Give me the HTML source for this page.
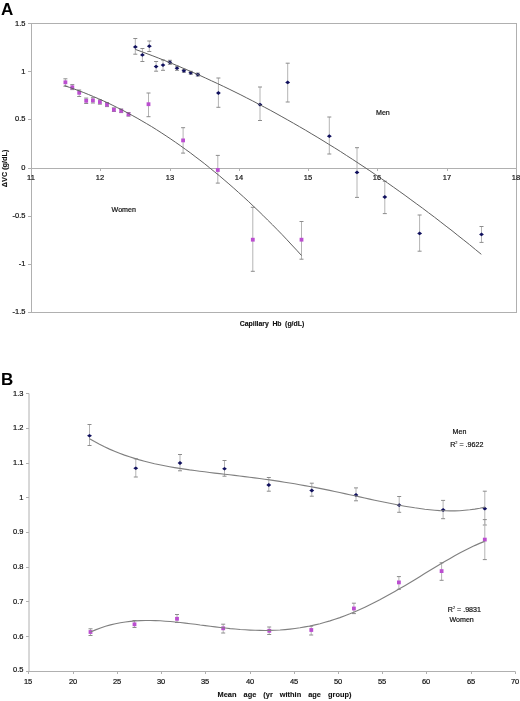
<!DOCTYPE html>
<html><head><meta charset="utf-8"><title>Figure</title>
<style>
html,body{margin:0;padding:0;background:#fff;}
body{width:520px;height:701px;overflow:hidden;}
svg{display:block;will-change:transform;}
text{font-family:"Liberation Sans",sans-serif;fill:#111;}
.t{font-size:7.5px;stroke:#111;stroke-width:0.2px;}
.lab{font-size:7.1px;}
.sup{font-size:3.9px;stroke-width:0.1px;}
.tb{font-size:7.3px;font-weight:bold;stroke:#111;stroke-width:0.12px;}
.tb2{font-size:7.4px;font-weight:bold;stroke:#111;stroke-width:0.1px;}
.big{font-size:17px;font-weight:bold;fill:#000;}
</style></head>
<body>
<svg width="520" height="701" viewBox="0 0 520 701">
<rect width="520" height="701" fill="#fff"/>
<rect x="31.5" y="23.5" width="485" height="289" fill="none" stroke="#b0b0b0" stroke-width="1"/>
<line x1="28" y1="23.5" x2="31" y2="23.5" stroke="#b0b0b0"/>
<text x="25.5" y="25.75" class="t" text-anchor="end">1.5</text>
<line x1="28" y1="71.5" x2="31" y2="71.5" stroke="#b0b0b0"/>
<text x="25.5" y="73.60" class="t" text-anchor="end">1</text>
<line x1="28" y1="119.5" x2="31" y2="119.5" stroke="#b0b0b0"/>
<text x="25.5" y="120.95" class="t" text-anchor="end">0.5</text>
<line x1="28" y1="168.5" x2="31" y2="168.5" stroke="#b0b0b0"/>
<text x="25.5" y="169.60" class="t" text-anchor="end">0</text>
<line x1="28" y1="216.5" x2="31" y2="216.5" stroke="#b0b0b0"/>
<text x="25.5" y="217.50" class="t" text-anchor="end">-0.5</text>
<line x1="28" y1="264.5" x2="31" y2="264.5" stroke="#b0b0b0"/>
<text x="25.5" y="265.70" class="t" text-anchor="end">-1</text>
<line x1="28" y1="312.5" x2="31" y2="312.5" stroke="#b0b0b0"/>
<text x="25.5" y="313.60" class="t" text-anchor="end">-1.5</text>
<line x1="31" y1="168.5" x2="516" y2="168.5" stroke="#b0b0b0"/>
<line x1="31.5" y1="168.5" x2="31.5" y2="171.0" stroke="#b0b0b0"/>
<text x="31.0" y="180.1" class="t" text-anchor="middle">11</text>
<line x1="100.5" y1="168.5" x2="100.5" y2="171.0" stroke="#b0b0b0"/>
<text x="100.0" y="180.1" class="t" text-anchor="middle">12</text>
<line x1="170.5" y1="168.5" x2="170.5" y2="171.0" stroke="#b0b0b0"/>
<text x="170.0" y="180.1" class="t" text-anchor="middle">13</text>
<line x1="239.5" y1="168.5" x2="239.5" y2="171.0" stroke="#b0b0b0"/>
<text x="239.0" y="180.1" class="t" text-anchor="middle">14</text>
<line x1="308.5" y1="168.5" x2="308.5" y2="171.0" stroke="#b0b0b0"/>
<text x="308.0" y="180.1" class="t" text-anchor="middle">15</text>
<line x1="377.5" y1="168.5" x2="377.5" y2="171.0" stroke="#b0b0b0"/>
<text x="377.0" y="180.1" class="t" text-anchor="middle">16</text>
<line x1="447.5" y1="168.5" x2="447.5" y2="171.0" stroke="#b0b0b0"/>
<text x="447.0" y="180.1" class="t" text-anchor="middle">17</text>
<line x1="516.5" y1="168.5" x2="516.5" y2="171.0" stroke="#b0b0b0"/>
<text x="516.0" y="180.1" class="t" text-anchor="middle">18</text>
<line x1="135.3" y1="38.5" x2="135.3" y2="54.2" stroke="#b4b4b4"/>
<line x1="133.3" y1="38.5" x2="137.3" y2="38.5" stroke="#8c8c8c"/>
<line x1="133.3" y1="54.2" x2="137.3" y2="54.2" stroke="#8c8c8c"/>
<line x1="142.4" y1="48.5" x2="142.4" y2="61.5" stroke="#b4b4b4"/>
<line x1="140.4" y1="48.5" x2="144.4" y2="48.5" stroke="#8c8c8c"/>
<line x1="140.4" y1="61.5" x2="144.4" y2="61.5" stroke="#8c8c8c"/>
<line x1="149.3" y1="41.0" x2="149.3" y2="51.5" stroke="#b4b4b4"/>
<line x1="147.3" y1="41.0" x2="151.3" y2="41.0" stroke="#8c8c8c"/>
<line x1="147.3" y1="51.5" x2="151.3" y2="51.5" stroke="#8c8c8c"/>
<line x1="156.1" y1="61.5" x2="156.1" y2="71.2" stroke="#b4b4b4"/>
<line x1="154.1" y1="61.5" x2="158.1" y2="61.5" stroke="#8c8c8c"/>
<line x1="154.1" y1="71.2" x2="158.1" y2="71.2" stroke="#8c8c8c"/>
<line x1="163.0" y1="60.0" x2="163.0" y2="70.3" stroke="#b4b4b4"/>
<line x1="161.0" y1="60.0" x2="165.0" y2="60.0" stroke="#8c8c8c"/>
<line x1="161.0" y1="70.3" x2="165.0" y2="70.3" stroke="#8c8c8c"/>
<line x1="169.9" y1="60.3" x2="169.9" y2="64.3" stroke="#b4b4b4"/>
<line x1="167.9" y1="60.3" x2="171.9" y2="60.3" stroke="#8c8c8c"/>
<line x1="167.9" y1="64.3" x2="171.9" y2="64.3" stroke="#8c8c8c"/>
<line x1="177.0" y1="66.2" x2="177.0" y2="70.3" stroke="#b4b4b4"/>
<line x1="175.0" y1="66.2" x2="179.0" y2="66.2" stroke="#8c8c8c"/>
<line x1="175.0" y1="70.3" x2="179.0" y2="70.3" stroke="#8c8c8c"/>
<line x1="183.9" y1="69.3" x2="183.9" y2="72.3" stroke="#b4b4b4"/>
<line x1="181.9" y1="69.3" x2="185.9" y2="69.3" stroke="#8c8c8c"/>
<line x1="181.9" y1="72.3" x2="185.9" y2="72.3" stroke="#8c8c8c"/>
<line x1="190.8" y1="71.3" x2="190.8" y2="74.3" stroke="#b4b4b4"/>
<line x1="188.8" y1="71.3" x2="192.8" y2="71.3" stroke="#8c8c8c"/>
<line x1="188.8" y1="74.3" x2="192.8" y2="74.3" stroke="#8c8c8c"/>
<line x1="197.8" y1="73.1" x2="197.8" y2="76.1" stroke="#b4b4b4"/>
<line x1="195.8" y1="73.1" x2="199.8" y2="73.1" stroke="#8c8c8c"/>
<line x1="195.8" y1="76.1" x2="199.8" y2="76.1" stroke="#8c8c8c"/>
<line x1="218.4" y1="78.0" x2="218.4" y2="107.3" stroke="#b4b4b4"/>
<line x1="216.4" y1="78.0" x2="220.4" y2="78.0" stroke="#8c8c8c"/>
<line x1="216.4" y1="107.3" x2="220.4" y2="107.3" stroke="#8c8c8c"/>
<line x1="260.0" y1="87.0" x2="260.0" y2="120.5" stroke="#b4b4b4"/>
<line x1="258.0" y1="87.0" x2="262.0" y2="87.0" stroke="#8c8c8c"/>
<line x1="258.0" y1="120.5" x2="262.0" y2="120.5" stroke="#8c8c8c"/>
<line x1="287.7" y1="63.2" x2="287.7" y2="102.0" stroke="#b4b4b4"/>
<line x1="285.7" y1="63.2" x2="289.7" y2="63.2" stroke="#8c8c8c"/>
<line x1="285.7" y1="102.0" x2="289.7" y2="102.0" stroke="#8c8c8c"/>
<line x1="329.3" y1="117.0" x2="329.3" y2="154.0" stroke="#b4b4b4"/>
<line x1="327.3" y1="117.0" x2="331.3" y2="117.0" stroke="#8c8c8c"/>
<line x1="327.3" y1="154.0" x2="331.3" y2="154.0" stroke="#8c8c8c"/>
<line x1="357.0" y1="147.7" x2="357.0" y2="197.4" stroke="#b4b4b4"/>
<line x1="355.0" y1="147.7" x2="359.0" y2="147.7" stroke="#8c8c8c"/>
<line x1="355.0" y1="197.4" x2="359.0" y2="197.4" stroke="#8c8c8c"/>
<line x1="384.8" y1="181.2" x2="384.8" y2="213.6" stroke="#b4b4b4"/>
<line x1="382.8" y1="181.2" x2="386.8" y2="181.2" stroke="#8c8c8c"/>
<line x1="382.8" y1="213.6" x2="386.8" y2="213.6" stroke="#8c8c8c"/>
<line x1="419.6" y1="215.0" x2="419.6" y2="251.2" stroke="#b4b4b4"/>
<line x1="417.6" y1="215.0" x2="421.6" y2="215.0" stroke="#8c8c8c"/>
<line x1="417.6" y1="251.2" x2="421.6" y2="251.2" stroke="#8c8c8c"/>
<line x1="481.5" y1="226.5" x2="481.5" y2="242.4" stroke="#b4b4b4"/>
<line x1="479.5" y1="226.5" x2="483.5" y2="226.5" stroke="#8c8c8c"/>
<line x1="479.5" y1="242.4" x2="483.5" y2="242.4" stroke="#8c8c8c"/>
<line x1="65.4" y1="78.8" x2="65.4" y2="86.2" stroke="#b4b4b4"/>
<line x1="63.4" y1="78.8" x2="67.4" y2="78.8" stroke="#8c8c8c"/>
<line x1="63.4" y1="86.2" x2="67.4" y2="86.2" stroke="#8c8c8c"/>
<line x1="72.3" y1="84.6" x2="72.3" y2="89.6" stroke="#b4b4b4"/>
<line x1="70.3" y1="84.6" x2="74.3" y2="84.6" stroke="#8c8c8c"/>
<line x1="70.3" y1="89.6" x2="74.3" y2="89.6" stroke="#8c8c8c"/>
<line x1="79.2" y1="90.0" x2="79.2" y2="96.5" stroke="#b4b4b4"/>
<line x1="77.2" y1="90.0" x2="81.2" y2="90.0" stroke="#8c8c8c"/>
<line x1="77.2" y1="96.5" x2="81.2" y2="96.5" stroke="#8c8c8c"/>
<line x1="86.2" y1="98.1" x2="86.2" y2="103.5" stroke="#b4b4b4"/>
<line x1="84.2" y1="98.1" x2="88.2" y2="98.1" stroke="#8c8c8c"/>
<line x1="84.2" y1="103.5" x2="88.2" y2="103.5" stroke="#8c8c8c"/>
<line x1="92.9" y1="97.7" x2="92.9" y2="103.0" stroke="#b4b4b4"/>
<line x1="90.9" y1="97.7" x2="94.9" y2="97.7" stroke="#8c8c8c"/>
<line x1="90.9" y1="103.0" x2="94.9" y2="103.0" stroke="#8c8c8c"/>
<line x1="99.9" y1="99.8" x2="99.9" y2="104.2" stroke="#b4b4b4"/>
<line x1="97.9" y1="99.8" x2="101.9" y2="99.8" stroke="#8c8c8c"/>
<line x1="97.9" y1="104.2" x2="101.9" y2="104.2" stroke="#8c8c8c"/>
<line x1="107.0" y1="102.6" x2="107.0" y2="106.6" stroke="#b4b4b4"/>
<line x1="105.0" y1="102.6" x2="109.0" y2="102.6" stroke="#8c8c8c"/>
<line x1="105.0" y1="106.6" x2="109.0" y2="106.6" stroke="#8c8c8c"/>
<line x1="113.9" y1="107.9" x2="113.9" y2="111.5" stroke="#b4b4b4"/>
<line x1="111.9" y1="107.9" x2="115.9" y2="107.9" stroke="#8c8c8c"/>
<line x1="111.9" y1="111.5" x2="115.9" y2="111.5" stroke="#8c8c8c"/>
<line x1="121.2" y1="109.0" x2="121.2" y2="112.6" stroke="#b4b4b4"/>
<line x1="119.2" y1="109.0" x2="123.2" y2="109.0" stroke="#8c8c8c"/>
<line x1="119.2" y1="112.6" x2="123.2" y2="112.6" stroke="#8c8c8c"/>
<line x1="128.5" y1="112.5" x2="128.5" y2="116.1" stroke="#b4b4b4"/>
<line x1="126.5" y1="112.5" x2="130.5" y2="112.5" stroke="#8c8c8c"/>
<line x1="126.5" y1="116.1" x2="130.5" y2="116.1" stroke="#8c8c8c"/>
<line x1="148.5" y1="93.0" x2="148.5" y2="116.7" stroke="#b4b4b4"/>
<line x1="146.5" y1="93.0" x2="150.5" y2="93.0" stroke="#8c8c8c"/>
<line x1="146.5" y1="116.7" x2="150.5" y2="116.7" stroke="#8c8c8c"/>
<line x1="183.1" y1="127.7" x2="183.1" y2="153.1" stroke="#b4b4b4"/>
<line x1="181.1" y1="127.7" x2="185.1" y2="127.7" stroke="#8c8c8c"/>
<line x1="181.1" y1="153.1" x2="185.1" y2="153.1" stroke="#8c8c8c"/>
<line x1="217.8" y1="155.4" x2="217.8" y2="183.1" stroke="#b4b4b4"/>
<line x1="215.8" y1="155.4" x2="219.8" y2="155.4" stroke="#8c8c8c"/>
<line x1="215.8" y1="183.1" x2="219.8" y2="183.1" stroke="#8c8c8c"/>
<line x1="252.8" y1="207.3" x2="252.8" y2="271.3" stroke="#b4b4b4"/>
<line x1="250.8" y1="207.3" x2="254.8" y2="207.3" stroke="#8c8c8c"/>
<line x1="250.8" y1="271.3" x2="254.8" y2="271.3" stroke="#8c8c8c"/>
<line x1="301.5" y1="221.5" x2="301.5" y2="259.2" stroke="#b4b4b4"/>
<line x1="299.5" y1="221.5" x2="303.5" y2="221.5" stroke="#8c8c8c"/>
<line x1="299.5" y1="259.2" x2="303.5" y2="259.2" stroke="#8c8c8c"/>
<path d="M132.9,46.9 L135.3,45.0 L137.8,46.9 L135.3,48.8 Z" fill="#10105e"/>
<path d="M140.0,54.9 L142.4,53.0 L144.8,54.9 L142.4,56.8 Z" fill="#10105e"/>
<path d="M146.9,46.2 L149.3,44.3 L151.8,46.2 L149.3,48.1 Z" fill="#10105e"/>
<path d="M153.7,66.6 L156.1,64.7 L158.5,66.6 L156.1,68.5 Z" fill="#10105e"/>
<path d="M160.6,65.1 L163.0,63.2 L165.4,65.1 L163.0,67.0 Z" fill="#10105e"/>
<path d="M167.5,62.3 L169.9,60.4 L172.3,62.3 L169.9,64.2 Z" fill="#10105e"/>
<path d="M174.6,68.2 L177.0,66.3 L179.4,68.2 L177.0,70.1 Z" fill="#10105e"/>
<path d="M181.5,70.8 L183.9,68.9 L186.3,70.8 L183.9,72.7 Z" fill="#10105e"/>
<path d="M188.4,72.8 L190.8,70.9 L193.2,72.8 L190.8,74.7 Z" fill="#10105e"/>
<path d="M195.4,74.6 L197.8,72.7 L200.2,74.6 L197.8,76.5 Z" fill="#10105e"/>
<path d="M216.0,93.0 L218.4,91.1 L220.8,93.0 L218.4,94.9 Z" fill="#10105e"/>
<path d="M257.6,104.6 L260.0,102.7 L262.4,104.6 L260.0,106.5 Z" fill="#10105e"/>
<path d="M285.2,82.4 L287.7,80.5 L290.1,82.4 L287.7,84.3 Z" fill="#10105e"/>
<path d="M326.9,136.2 L329.3,134.3 L331.8,136.2 L329.3,138.1 Z" fill="#10105e"/>
<path d="M354.6,172.4 L357.0,170.5 L359.4,172.4 L357.0,174.3 Z" fill="#10105e"/>
<path d="M382.4,197.0 L384.8,195.1 L387.2,197.0 L384.8,198.9 Z" fill="#10105e"/>
<path d="M417.2,233.4 L419.6,231.5 L422.1,233.4 L419.6,235.3 Z" fill="#10105e"/>
<path d="M479.1,234.4 L481.5,232.5 L483.9,234.4 L481.5,236.3 Z" fill="#10105e"/>
<rect x="63.5" y="80.4" width="3.8" height="3.8" fill="#bb4ed0"/>
<rect x="70.4" y="85.4" width="3.8" height="3.8" fill="#bb4ed0"/>
<rect x="77.3" y="90.9" width="3.8" height="3.8" fill="#bb4ed0"/>
<rect x="84.3" y="98.9" width="3.8" height="3.8" fill="#bb4ed0"/>
<rect x="91.0" y="98.5" width="3.8" height="3.8" fill="#bb4ed0"/>
<rect x="98.0" y="100.1" width="3.8" height="3.8" fill="#bb4ed0"/>
<rect x="105.1" y="102.7" width="3.8" height="3.8" fill="#bb4ed0"/>
<rect x="112.0" y="107.8" width="3.8" height="3.8" fill="#bb4ed0"/>
<rect x="119.3" y="108.9" width="3.8" height="3.8" fill="#bb4ed0"/>
<rect x="126.6" y="112.4" width="3.8" height="3.8" fill="#bb4ed0"/>
<rect x="146.6" y="102.3" width="3.8" height="3.8" fill="#bb4ed0"/>
<rect x="181.2" y="138.5" width="3.8" height="3.8" fill="#bb4ed0"/>
<rect x="215.9" y="168.1" width="3.8" height="3.8" fill="#bb4ed0"/>
<rect x="250.9" y="237.8" width="3.8" height="3.8" fill="#bb4ed0"/>
<rect x="299.6" y="237.8" width="3.8" height="3.8" fill="#bb4ed0"/>
<path d="M135.3,49.4 L141.2,51.5 L147.0,53.7 L152.9,55.9 L158.8,58.2 L164.6,60.5 L170.5,62.9 L176.4,65.3 L182.2,67.8 L188.1,70.3 L193.9,72.8 L199.8,75.4 L205.7,78.1 L211.5,80.8 L217.4,83.5 L223.3,86.3 L229.1,89.1 L235.0,92.0 L240.9,94.9 L246.7,97.9 L252.6,100.9 L258.5,104.0 L264.3,107.1 L270.2,110.2 L276.0,113.4 L281.9,116.7 L287.8,120.0 L293.6,123.3 L299.5,126.7 L305.4,130.1 L311.2,133.6 L317.1,137.1 L323.0,140.7 L328.8,144.3 L334.7,147.9 L340.6,151.6 L346.4,155.4 L352.3,159.2 L358.1,163.0 L364.0,166.9 L369.9,170.8 L375.7,174.8 L381.6,178.8 L387.5,182.9 L393.3,187.0 L399.2,191.2 L405.1,195.4 L410.9,199.7 L416.8,204.0 L422.7,208.3 L428.5,212.7 L434.4,217.1 L440.2,221.6 L446.1,226.2 L452.0,230.7 L457.8,235.4 L463.7,240.0 L469.6,244.7 L475.4,249.5 L481.3,254.3" fill="none" stroke="#606060" stroke-width="1"/>
<path d="M64.5,85.7 L69.3,87.3 L74.2,89.0 L79.0,90.8 L83.8,92.6 L88.7,94.6 L93.5,96.6 L98.4,98.7 L103.2,100.8 L108.0,103.0 L112.9,105.4 L117.7,107.8 L122.5,110.2 L127.4,112.8 L132.2,115.4 L137.1,118.1 L141.9,120.9 L146.7,123.7 L151.6,126.6 L156.4,129.6 L161.2,132.7 L166.1,135.9 L170.9,139.1 L175.7,142.4 L180.6,145.8 L185.4,149.3 L190.3,152.8 L195.1,156.5 L199.9,160.1 L204.8,163.9 L209.6,167.8 L214.4,171.7 L219.3,175.7 L224.1,179.8 L228.9,183.9 L233.8,188.2 L238.6,192.5 L243.5,196.9 L248.3,201.3 L253.1,205.9 L258.0,210.5 L262.8,215.2 L267.6,220.0 L272.5,224.8 L277.3,229.7 L282.2,234.7 L287.0,239.8 L291.8,245.0 L296.7,250.2 L301.5,255.5" fill="none" stroke="#606060" stroke-width="1"/>
<text x="376" y="115.2" class="t lab">Men</text>
<text x="111.6" y="212" class="t lab">Women</text>
<text x="272" y="325.8" class="tb" style="font-size:6.9px" text-anchor="middle" word-spacing="1.6">Capillary Hb (g/dL)</text>
<text transform="translate(7.3,168.4) rotate(-90)" class="tb" text-anchor="middle">&#916;VC (g/dL)</text>
<text x="1" y="15" class="big">A</text>
<line x1="29" y1="393.5" x2="29" y2="671.5" stroke="#b0b0b0"/>
<line x1="29" y1="671.5" x2="515.4" y2="671.5" stroke="#b0b0b0"/>
<line x1="26" y1="671.5" x2="29" y2="671.5" stroke="#b0b0b0"/>
<text x="23.5" y="672.35" class="t" text-anchor="end">0.5</text>
<line x1="26" y1="636.5" x2="29" y2="636.5" stroke="#b0b0b0"/>
<text x="23.5" y="638.50" class="t" text-anchor="end">0.6</text>
<line x1="26" y1="601.5" x2="29" y2="601.5" stroke="#b0b0b0"/>
<text x="23.5" y="603.75" class="t" text-anchor="end">0.7</text>
<line x1="26" y1="567.5" x2="29" y2="567.5" stroke="#b0b0b0"/>
<text x="23.5" y="568.65" class="t" text-anchor="end">0.8</text>
<line x1="26" y1="532.5" x2="29" y2="532.5" stroke="#b0b0b0"/>
<text x="23.5" y="534.10" class="t" text-anchor="end">0.9</text>
<line x1="26" y1="497.5" x2="29" y2="497.5" stroke="#b0b0b0"/>
<text x="23.5" y="499.85" class="t" text-anchor="end">1</text>
<line x1="26" y1="463.5" x2="29" y2="463.5" stroke="#b0b0b0"/>
<text x="23.5" y="464.50" class="t" text-anchor="end">1.1</text>
<line x1="26" y1="428.5" x2="29" y2="428.5" stroke="#b0b0b0"/>
<text x="23.5" y="430.15" class="t" text-anchor="end">1.2</text>
<line x1="26" y1="393.5" x2="29" y2="393.5" stroke="#b0b0b0"/>
<text x="23.5" y="396.30" class="t" text-anchor="end">1.3</text>
<line x1="28.5" y1="671.5" x2="28.5" y2="674" stroke="#b0b0b0"/>
<text x="28.1" y="683.7" class="t" text-anchor="middle">15</text>
<line x1="73.5" y1="671.5" x2="73.5" y2="674" stroke="#b0b0b0"/>
<text x="73.1" y="683.7" class="t" text-anchor="middle">20</text>
<line x1="117.5" y1="671.5" x2="117.5" y2="674" stroke="#b0b0b0"/>
<text x="117.1" y="683.7" class="t" text-anchor="middle">25</text>
<line x1="161.5" y1="671.5" x2="161.5" y2="674" stroke="#b0b0b0"/>
<text x="161.1" y="683.7" class="t" text-anchor="middle">30</text>
<line x1="205.5" y1="671.5" x2="205.5" y2="674" stroke="#b0b0b0"/>
<text x="205.1" y="683.7" class="t" text-anchor="middle">35</text>
<line x1="250.5" y1="671.5" x2="250.5" y2="674" stroke="#b0b0b0"/>
<text x="250.1" y="683.7" class="t" text-anchor="middle">40</text>
<line x1="294.5" y1="671.5" x2="294.5" y2="674" stroke="#b0b0b0"/>
<text x="294.1" y="683.7" class="t" text-anchor="middle">45</text>
<line x1="338.5" y1="671.5" x2="338.5" y2="674" stroke="#b0b0b0"/>
<text x="338.1" y="683.7" class="t" text-anchor="middle">50</text>
<line x1="382.5" y1="671.5" x2="382.5" y2="674" stroke="#b0b0b0"/>
<text x="382.1" y="683.7" class="t" text-anchor="middle">55</text>
<line x1="426.5" y1="671.5" x2="426.5" y2="674" stroke="#b0b0b0"/>
<text x="426.1" y="683.7" class="t" text-anchor="middle">60</text>
<line x1="471.5" y1="671.5" x2="471.5" y2="674" stroke="#b0b0b0"/>
<text x="471.1" y="683.7" class="t" text-anchor="middle">65</text>
<line x1="515.5" y1="671.5" x2="515.5" y2="674" stroke="#b0b0b0"/>
<text x="515.1" y="683.7" class="t" text-anchor="middle">70</text>
<line x1="89.5" y1="424.5" x2="89.5" y2="445.5" stroke="#b4b4b4"/>
<line x1="87.5" y1="424.5" x2="91.5" y2="424.5" stroke="#8c8c8c"/>
<line x1="87.5" y1="445.5" x2="91.5" y2="445.5" stroke="#8c8c8c"/>
<line x1="135.8" y1="458.8" x2="135.8" y2="477.0" stroke="#b4b4b4"/>
<line x1="133.8" y1="458.8" x2="137.8" y2="458.8" stroke="#8c8c8c"/>
<line x1="133.8" y1="477.0" x2="137.8" y2="477.0" stroke="#8c8c8c"/>
<line x1="180.0" y1="454.5" x2="180.0" y2="470.8" stroke="#b4b4b4"/>
<line x1="178.0" y1="454.5" x2="182.0" y2="454.5" stroke="#8c8c8c"/>
<line x1="178.0" y1="470.8" x2="182.0" y2="470.8" stroke="#8c8c8c"/>
<line x1="224.5" y1="460.5" x2="224.5" y2="476.2" stroke="#b4b4b4"/>
<line x1="222.5" y1="460.5" x2="226.5" y2="460.5" stroke="#8c8c8c"/>
<line x1="222.5" y1="476.2" x2="226.5" y2="476.2" stroke="#8c8c8c"/>
<line x1="268.8" y1="477.5" x2="268.8" y2="491.2" stroke="#b4b4b4"/>
<line x1="266.8" y1="477.5" x2="270.8" y2="477.5" stroke="#8c8c8c"/>
<line x1="266.8" y1="491.2" x2="270.8" y2="491.2" stroke="#8c8c8c"/>
<line x1="311.8" y1="483.2" x2="311.8" y2="496.2" stroke="#b4b4b4"/>
<line x1="309.8" y1="483.2" x2="313.8" y2="483.2" stroke="#8c8c8c"/>
<line x1="309.8" y1="496.2" x2="313.8" y2="496.2" stroke="#8c8c8c"/>
<line x1="356.0" y1="487.9" x2="356.0" y2="500.8" stroke="#b4b4b4"/>
<line x1="354.0" y1="487.9" x2="358.0" y2="487.9" stroke="#8c8c8c"/>
<line x1="354.0" y1="500.8" x2="358.0" y2="500.8" stroke="#8c8c8c"/>
<line x1="399.2" y1="496.5" x2="399.2" y2="512.3" stroke="#b4b4b4"/>
<line x1="397.2" y1="496.5" x2="401.2" y2="496.5" stroke="#8c8c8c"/>
<line x1="397.2" y1="512.3" x2="401.2" y2="512.3" stroke="#8c8c8c"/>
<line x1="443.1" y1="500.4" x2="443.1" y2="518.7" stroke="#b4b4b4"/>
<line x1="441.1" y1="500.4" x2="445.1" y2="500.4" stroke="#8c8c8c"/>
<line x1="441.1" y1="518.7" x2="445.1" y2="518.7" stroke="#8c8c8c"/>
<line x1="484.8" y1="491.2" x2="484.8" y2="525.0" stroke="#b4b4b4"/>
<line x1="482.8" y1="491.2" x2="486.8" y2="491.2" stroke="#8c8c8c"/>
<line x1="482.8" y1="525.0" x2="486.8" y2="525.0" stroke="#8c8c8c"/>
<line x1="90.5" y1="628.8" x2="90.5" y2="635.5" stroke="#b4b4b4"/>
<line x1="88.5" y1="628.8" x2="92.5" y2="628.8" stroke="#8c8c8c"/>
<line x1="88.5" y1="635.5" x2="92.5" y2="635.5" stroke="#8c8c8c"/>
<line x1="134.5" y1="620.5" x2="134.5" y2="627.5" stroke="#b4b4b4"/>
<line x1="132.5" y1="620.5" x2="136.5" y2="620.5" stroke="#8c8c8c"/>
<line x1="132.5" y1="627.5" x2="136.5" y2="627.5" stroke="#8c8c8c"/>
<line x1="177.0" y1="614.5" x2="177.0" y2="622.5" stroke="#b4b4b4"/>
<line x1="175.0" y1="614.5" x2="179.0" y2="614.5" stroke="#8c8c8c"/>
<line x1="175.0" y1="622.5" x2="179.0" y2="622.5" stroke="#8c8c8c"/>
<line x1="223.2" y1="624.2" x2="223.2" y2="633.0" stroke="#b4b4b4"/>
<line x1="221.2" y1="624.2" x2="225.2" y2="624.2" stroke="#8c8c8c"/>
<line x1="221.2" y1="633.0" x2="225.2" y2="633.0" stroke="#8c8c8c"/>
<line x1="269.2" y1="627.0" x2="269.2" y2="634.5" stroke="#b4b4b4"/>
<line x1="267.2" y1="627.0" x2="271.2" y2="627.0" stroke="#8c8c8c"/>
<line x1="267.2" y1="634.5" x2="271.2" y2="634.5" stroke="#8c8c8c"/>
<line x1="311.2" y1="626.2" x2="311.2" y2="635.0" stroke="#b4b4b4"/>
<line x1="309.2" y1="626.2" x2="313.2" y2="626.2" stroke="#8c8c8c"/>
<line x1="309.2" y1="635.0" x2="313.2" y2="635.0" stroke="#8c8c8c"/>
<line x1="353.9" y1="603.2" x2="353.9" y2="613.6" stroke="#b4b4b4"/>
<line x1="351.9" y1="603.2" x2="355.9" y2="603.2" stroke="#8c8c8c"/>
<line x1="351.9" y1="613.6" x2="355.9" y2="613.6" stroke="#8c8c8c"/>
<line x1="398.9" y1="576.6" x2="398.9" y2="589.3" stroke="#b4b4b4"/>
<line x1="396.9" y1="576.6" x2="400.9" y2="576.6" stroke="#8c8c8c"/>
<line x1="396.9" y1="589.3" x2="400.9" y2="589.3" stroke="#8c8c8c"/>
<line x1="441.6" y1="562.8" x2="441.6" y2="580.3" stroke="#b4b4b4"/>
<line x1="439.6" y1="562.8" x2="443.6" y2="562.8" stroke="#8c8c8c"/>
<line x1="439.6" y1="580.3" x2="443.6" y2="580.3" stroke="#8c8c8c"/>
<line x1="484.8" y1="519.6" x2="484.8" y2="559.6" stroke="#b4b4b4"/>
<line x1="482.8" y1="519.6" x2="486.8" y2="519.6" stroke="#8c8c8c"/>
<line x1="482.8" y1="559.6" x2="486.8" y2="559.6" stroke="#8c8c8c"/>
<path d="M87.0,435.8 L89.5,433.9 L92.0,435.8 L89.5,437.6 Z" fill="#10105e"/>
<path d="M133.3,468.2 L135.8,466.4 L138.2,468.2 L135.8,470.1 Z" fill="#10105e"/>
<path d="M177.6,463.0 L180.0,461.1 L182.4,463.0 L180.0,464.9 Z" fill="#10105e"/>
<path d="M222.1,468.8 L224.5,466.9 L226.9,468.8 L224.5,470.6 Z" fill="#10105e"/>
<path d="M266.3,485.0 L268.8,483.1 L271.2,485.0 L268.8,486.9 Z" fill="#10105e"/>
<path d="M309.3,490.5 L311.8,488.6 L314.2,490.5 L311.8,492.4 Z" fill="#10105e"/>
<path d="M353.6,495.0 L356.0,493.1 L358.4,495.0 L356.0,496.9 Z" fill="#10105e"/>
<path d="M396.8,505.2 L399.2,503.3 L401.6,505.2 L399.2,507.1 Z" fill="#10105e"/>
<path d="M440.7,510.0 L443.1,508.1 L445.6,510.0 L443.1,511.9 Z" fill="#10105e"/>
<path d="M482.4,508.7 L484.8,506.8 L487.2,508.7 L484.8,510.6 Z" fill="#10105e"/>
<rect x="88.6" y="630.1" width="3.8" height="3.8" fill="#bb4ed0"/>
<rect x="132.6" y="622.4" width="3.8" height="3.8" fill="#bb4ed0"/>
<rect x="175.1" y="616.9" width="3.8" height="3.8" fill="#bb4ed0"/>
<rect x="221.3" y="626.4" width="3.8" height="3.8" fill="#bb4ed0"/>
<rect x="267.4" y="628.9" width="3.8" height="3.8" fill="#bb4ed0"/>
<rect x="309.4" y="628.1" width="3.8" height="3.8" fill="#bb4ed0"/>
<rect x="352.0" y="606.6" width="3.8" height="3.8" fill="#bb4ed0"/>
<rect x="397.0" y="580.5" width="3.8" height="3.8" fill="#bb4ed0"/>
<rect x="439.7" y="569.2" width="3.8" height="3.8" fill="#bb4ed0"/>
<rect x="482.9" y="537.7" width="3.8" height="3.8" fill="#bb4ed0"/>
<path d="M89.5,438.7 L94.5,441.6 L99.5,444.3 L104.5,446.8 L109.5,449.1 L114.5,451.2 L119.5,453.2 L124.5,455.1 L129.5,456.8 L134.5,458.4 L139.5,459.9 L144.5,461.2 L149.5,462.5 L154.5,463.7 L159.6,464.7 L164.6,465.7 L169.6,466.7 L174.6,467.6 L179.6,468.4 L184.6,469.1 L189.6,469.9 L194.6,470.5 L199.6,471.2 L204.6,471.8 L209.6,472.5 L214.6,473.1 L219.6,473.6 L224.6,474.2 L229.6,474.8 L234.6,475.4 L239.6,476.0 L244.6,476.6 L249.6,477.2 L254.6,477.9 L259.6,478.5 L264.6,479.2 L269.6,479.9 L274.6,480.6 L279.6,481.4 L284.6,482.2 L289.7,483.0 L294.7,483.8 L299.7,484.7 L304.7,485.6 L309.7,486.5 L314.7,487.4 L319.7,488.4 L324.7,489.4 L329.7,490.4 L334.7,491.5 L339.7,492.5 L344.7,493.6 L349.7,494.7 L354.7,495.8 L359.7,496.9 L364.7,498.0 L369.7,499.1 L374.7,500.2 L379.7,501.2 L384.7,502.3 L389.7,503.3 L394.7,504.3 L399.7,505.3 L404.7,506.2 L409.7,507.0 L414.7,507.8 L419.8,508.5 L424.8,509.2 L429.8,509.7 L434.8,510.2 L439.8,510.6 L444.8,510.8 L449.8,510.9 L454.8,510.9 L459.8,510.7 L464.8,510.3 L469.8,509.8 L474.8,509.1 L479.8,508.2 L484.8,507.1" fill="none" stroke="#808080" stroke-width="1.15"/>
<path d="M90.5,632.0 L95.5,629.9 L100.5,628.0 L105.5,626.3 L110.5,624.9 L115.4,623.7 L120.4,622.7 L125.4,622.0 L130.4,621.4 L135.4,620.9 L140.4,620.6 L145.4,620.5 L150.4,620.5 L155.4,620.6 L160.3,620.8 L165.3,621.2 L170.3,621.5 L175.3,622.0 L180.3,622.5 L185.3,623.1 L190.3,623.7 L195.3,624.3 L200.2,625.0 L205.2,625.6 L210.2,626.2 L215.2,626.9 L220.2,627.5 L225.2,628.0 L230.2,628.6 L235.2,629.0 L240.2,629.5 L245.1,629.8 L250.1,630.1 L255.1,630.3 L260.1,630.4 L265.1,630.5 L270.1,630.4 L275.1,630.2 L280.1,630.0 L285.1,629.6 L290.0,629.1 L295.0,628.5 L300.0,627.8 L305.0,626.9 L310.0,626.0 L315.0,624.9 L320.0,623.7 L325.0,622.3 L330.0,620.9 L334.9,619.3 L339.9,617.6 L344.9,615.7 L349.9,613.8 L354.9,611.7 L359.9,609.5 L364.9,607.2 L369.9,604.8 L374.9,602.3 L379.8,599.8 L384.8,597.1 L389.8,594.3 L394.8,591.5 L399.8,588.6 L404.8,585.7 L409.8,582.7 L414.8,579.7 L419.7,576.7 L424.7,573.6 L429.7,570.6 L434.7,567.5 L439.7,564.5 L444.7,561.6 L449.7,558.7 L454.7,555.8 L459.7,553.1 L464.6,550.5 L469.6,548.0 L474.6,545.6 L479.6,543.4 L484.6,541.4" fill="none" stroke="#808080" stroke-width="1.15"/>
<text x="452.6" y="433.8" class="t lab">Men</text>
<text x="450.2" y="446.9" class="t lab">R<tspan class="sup" dy="-3.2">2</tspan><tspan dy="3.2"> = .9622</tspan></text>
<text x="447.8" y="612.0" class="t lab">R<tspan class="sup" dy="-3.2">2</tspan><tspan dy="3.2"> = .9831</tspan></text>
<text x="449.5" y="622.0" class="t lab">Women</text>
<text x="284.5" y="696.8" class="tb2" text-anchor="middle" word-spacing="5">Mean age (yr within age group)</text>
<text x="1" y="385" class="big">B</text>
</svg>
</body></html>
